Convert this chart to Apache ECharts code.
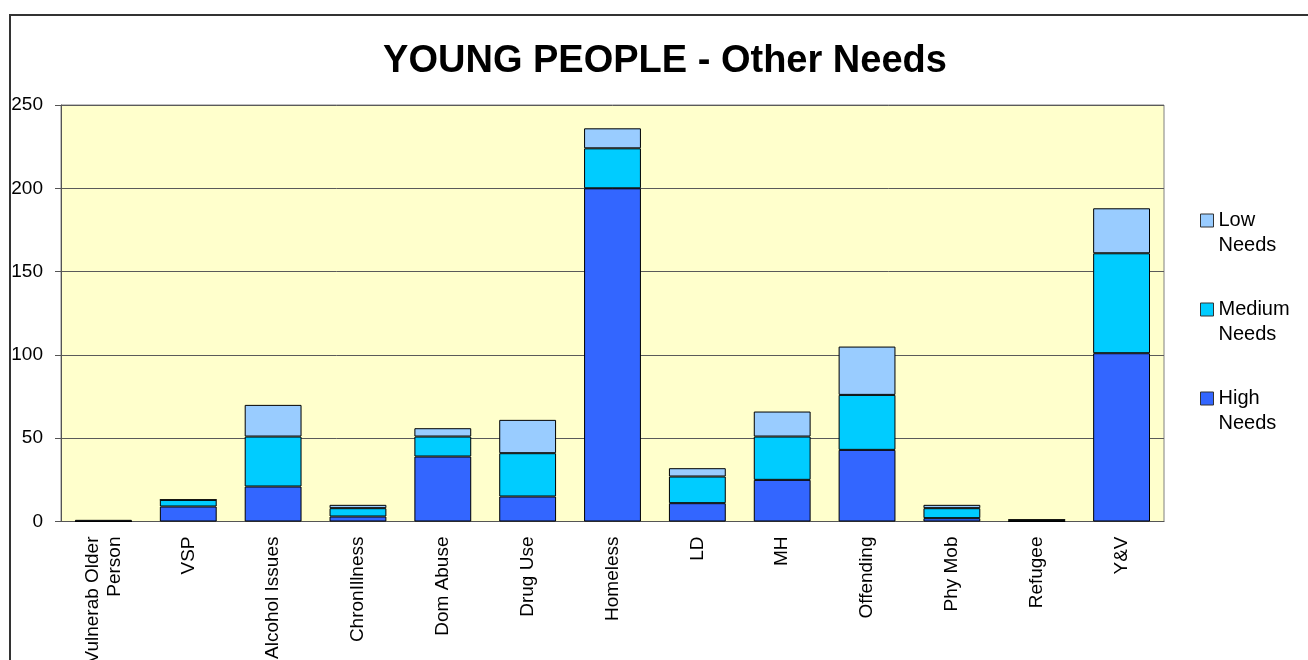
<!DOCTYPE html>
<html>
<head>
<meta charset="utf-8">
<script src="https://cdn.jsdelivr.net/npm/echarts@6/dist/echarts.min.js"></script>
<style>
  html, body { margin: 0; padding: 0; background: #fff; }
  #chart { width: 1308px; height: 660px; }
</style>
</head>
<body>
<div id="chart"></div>
<script>
const categories = ['Vulnerab Older\nPerson', 'VSP', 'Alcohol Issues', 'ChronIllness', 'Dom Abuse', 'Drug Use',
    'Homeless', 'LD', 'MH', 'Offending', 'Phy Mob', 'Refugee', 'Y&V'];
const highNeeds = [0, 9, 21, 3, 39, 15, 200, 11, 25, 43, 2, 0, 101];
const mediumNeeds = [0, 4, 30, 5, 12, 26, 24, 16, 26, 33, 6, 1, 60];
const lowNeeds = [1, 0, 19, 2, 5, 20, 12, 5, 15, 29, 2, 0, 27];
const yTicks = { min: 0, max: 250, step: 50 };

const font = "'Liberation Sans', Arial, sans-serif";
const chart = echarts.init(document.getElementById('chart'));

const barSeries = (name, data, color) => ({
    name: name,
    type: 'bar',
    stack: 'needs',
    data: data,
    barCategoryGap: '33%',
    itemStyle: { color: color, borderColor: '#000', borderWidth: 1 },
    emphasis: { disabled: true },
});

chart.setOption({
    animation: false,
    title: {
        text: 'YOUNG PEOPLE - Other Needs',
        left: 665,
        top: 43,
        textAlign: 'center',
        padding: 0,
        textStyle: { fontFamily: font, fontSize: 38, fontWeight: 'bold', color: '#000' },
    },
    graphic: [{
        type: 'rect',
        shape: { x: 10, y: 15, width: 1320, height: 680 },
        style: { fill: 'none', stroke: '#333', lineWidth: 2 },
        silent: true,
    }],
    legend: {
        orient: 'vertical',
        left: 1200,
        top: 183,
        padding: 0,
        itemGap: 14,
        itemWidth: 13,
        itemHeight: 13,
        icon: 'rect',
        data: ['Low Needs', 'Medium Needs', 'High Needs'],
        // blank first line keeps the icon level with the first word
        formatter: (name) => '\n' + name.replace(' ', '\n'),
        textStyle: { fontFamily: font, fontSize: 20, color: '#000', lineHeight: 25 },
        itemStyle: { borderColor: '#333', borderWidth: 1 },
    },
    grid: {
        left: 61,
        right: 144,
        top: 105,
        bottom: 138.5,
        outerBoundsMode: 'none',
        containLabel: false,
        show: true,
        backgroundColor: '#FFFFCC',
        borderColor: '#808080',
        borderWidth: 1,
    },
    xAxis: {
        type: 'category',
        data: categories,
        axisLine: { lineStyle: { color: '#555', width: 1 } },
        axisTick: { length: 6, lineStyle: { color: '#555' } },
        axisLabel: {
            rotate: 90,
            interval: 0,
            margin: 15,
            fontFamily: font,
            fontSize: 19,
            lineHeight: 22,
            color: '#000',
        },
    },
    yAxis: {
        type: 'value',
        min: yTicks.min,
        max: yTicks.max,
        interval: yTicks.step,
        axisLine: { show: true, lineStyle: { color: '#555', width: 1 } },
        axisTick: { show: true, length: 6, lineStyle: { color: '#555' } },
        axisLabel: { margin: 18, fontFamily: font, fontSize: 19, color: '#000' },
        splitLine: { lineStyle: { color: '#5a5a5a', width: 1 } },
    },
    series: [
        barSeries('High Needs', highNeeds, '#3366FF'),
        barSeries('Medium Needs', mediumNeeds, '#00CCFF'),
        barSeries('Low Needs', lowNeeds, '#99CCFF'),
    ],
});
</script>
</body>
</html>
